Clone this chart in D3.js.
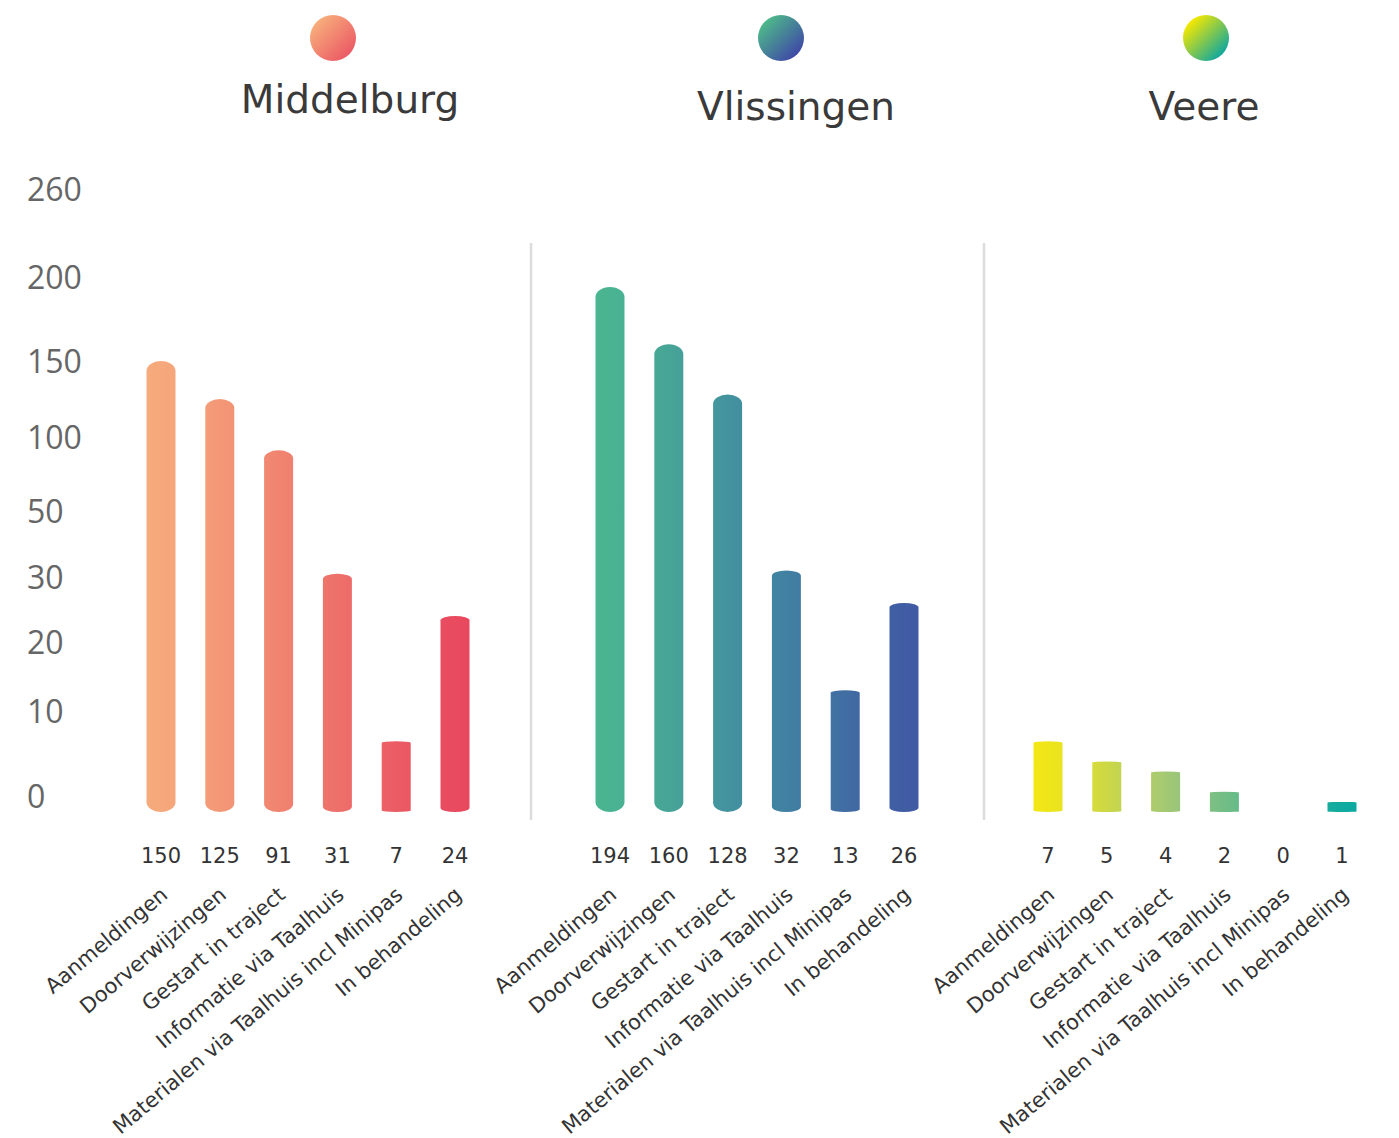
<!DOCTYPE html>
<html>
<head>
<meta charset="utf-8">
<script src="https://cdn.jsdelivr.net/npm/d3@7"></script>
<style>
  body { margin: 0; background: #fff; }
  text { font-family: "DejaVu Sans", Verdana, sans-serif; }
</style>
</head>
<body>
<svg id="chart"></svg>
<script>
var W = 1399, H = 1138;

// data
var cities = ["Middelburg", "Vlissingen", "Veere"];
var categories = ["Aanmeldingen", "Doorverwijzingen", "Gestart in traject",
  "Informatie via Taalhuis", "Materialen via Taalhuis incl Minipas", "In behandeling"];
var middelburg = [150, 125, 91, 31, 7, 24];
var vlissingen = [194, 160, 128, 32, 13, 26];
var veere = [7, 5, 4, 2, 0, 1];
var yTicks = [0, 10, 20, 30, 50, 100, 150, 200, 260];

var series = [middelburg, vlissingen, veere];
// colour stops per city: start, middle, end
var cityColors = [
  ["#f6ab7c", "#ef7a6e", "#e8485e"],
  ["#4ab590", "#418aa2", "#405aa3"],
  ["#f3e714", "#a5c877", "#0ba9a1"]
];
var cityMid = [0.5, 0.5, 0.4];
var circleColors = [["#f7ad7b", "#ec5b66"], ["#4db88a", "#3f4aa6"], ["#f6e800", "#12a89c"]];

// layout
var BASE = 812,
  BAR_W = 29,
  STEP = 58.8,
  PANEL_START = [161, 610, 1048],
  SEPARATORS = [531, 984],
  TITLE_X = [350, 796, 1204],
  TITLE_Y = [113, 120, 120],
  CIRCLE_X = [333, 781, 1206];

// piecewise scale, ticks are not evenly spaced in the original
var y = d3.scaleLinear()
  .domain(yTicks)
  .range([BASE, 711, 642, 577, 511, 437, 361, 277, 189]);

var svg = d3.select('#chart')
  .attr('width', W)
  .attr('height', H);

var defs = svg.append('defs');

// y labels
var yAxis = svg.append('g')
  .attr('transform', 'translate(27,0)')
  .call(d3.axisLeft(y).tickValues(yTicks).tickSize(0).tickPadding(0));
yAxis.select('.domain').remove();
yAxis.selectAll('text')
  .attr('x', 0)
  .attr('text-anchor', 'start')
  .attr('dy', function(d) { return d === 0 ? '-0.15em' : '0.35em'; })
  .style('font-family', '"Open Sans", sans-serif')
  .style('font-size', '32px')
  .style('fill', '#666');

// separators
svg.selectAll('line.sep')
  .data(SEPARATORS)
  .enter()
  .append('line')
  .attr('class', 'sep')
  .attr('x1', function(d) { return d; })
  .attr('x2', function(d) { return d; })
  .attr('y1', 243)
  .attr('y2', 820)
  .style('stroke', '#dcdcdc')
  .style('stroke-width', 2.5);

function barPath(x, v) {
  var top = y(v), h = BASE - top;
  if (h <= 0) return '';
  var rx = BAR_W / 2,
    ry = Math.max(0.6, Math.min(10, h * 0.022)),
    x0 = x - rx, x1 = x + rx;
  return 'M' + x0 + ',' + (top + ry) +
    'A' + rx + ',' + ry + ' 0 0 1 ' + x1 + ',' + (top + ry) +
    'L' + x1 + ',' + (BASE - ry) +
    'A' + rx + ',' + ry + ' 0 0 1 ' + x0 + ',' + (BASE - ry) + 'Z';
}

cities.forEach(function(city, ci) {
  var col = d3.scaleLinear()
    .domain([0, cityMid[ci], 1])
    .range(cityColors[ci])
    .interpolate(d3.interpolateRgb)
    .clamp(true);
  var x = d3.scalePoint()
    .domain(categories)
    .range([PANEL_START[ci], PANEL_START[ci] + STEP * (categories.length - 1)]);

  // legend circle
  var cg = defs.append('linearGradient')
    .attr('id', 'circle-' + ci)
    .attr('x1', '15%').attr('y1', '15%')
    .attr('x2', '85%').attr('y2', '85%');
  cg.append('stop').attr('offset', 0).attr('stop-color', circleColors[ci][0]);
  cg.append('stop').attr('offset', 1).attr('stop-color', circleColors[ci][1]);

  svg.append('circle')
    .attr('cx', CIRCLE_X[ci])
    .attr('cy', 38)
    .attr('r', 23)
    .style('fill', 'url(#circle-' + ci + ')');

  svg.append('text')
    .attr('x', TITLE_X[ci])
    .attr('y', TITLE_Y[ci])
    .attr('text-anchor', 'middle')
    .style('font-size', '39px')
    .style('fill', '#3a3a3a')
    .text(city);

  var g = svg.append('g').attr('class', 'panel');
  var vals = series[ci];

  categories.forEach(function(cat, i) {
    var t = i / (categories.length - 1);
    var gid = 'bar-' + ci + '-' + i;
    var bg = defs.append('linearGradient')
      .attr('id', gid)
      .attr('x1', '0%').attr('y1', '0')
      .attr('x2', '100%').attr('y2', '0');
    bg.append('stop').attr('offset', 0).attr('stop-color', col(t - 0.05));
    bg.append('stop').attr('offset', 1).attr('stop-color', col(t + 0.05));

    g.append('path')
      .attr('d', barPath(x(cat), vals[i]))
      .style('fill', 'url(#' + gid + ')');

    g.append('text')
      .attr('x', x(cat))
      .attr('y', 863)
      .attr('text-anchor', 'middle')
      .style('font-size', '21px')
      .style('fill', '#333')
      .text(vals[i]);

    g.append('text')
      .attr('transform', 'translate(' + (x(cat) + 8) + ',897) rotate(-40)')
      .attr('text-anchor', 'end')
      .style('font-size', '21px')
      .style('fill', '#333')
      .text(cat);
  });
});
</script>
</body>
</html>
